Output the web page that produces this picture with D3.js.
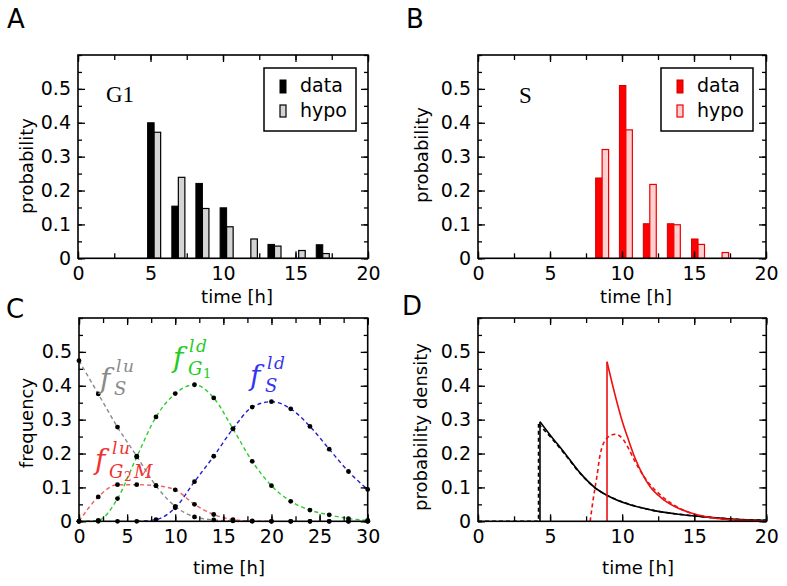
<!DOCTYPE html>
<html>
<head>
<meta charset="utf-8">
<script src="https://cdn.jsdelivr.net/npm/d3@7"></script>
<style>
  html, body { margin: 0; padding: 0; background: #fff; }
  svg { display: block; }
</style>
</head>
<body>
<div id="chart"></div>
<script>
// ---------------- DATA ----------------
// Panel A (G1): bin edges (time, h) between the data bar and the hypo bar
const aBins = [5.25, 6.92, 8.58, 10.25, 11.92, 13.55, 15.22, 16.88];
const aData = [0.400, 0.154, 0.221, 0.149, 0.000, 0.041, 0.000, 0.040];
const aHypo = [0.372, 0.239, 0.147, 0.093, 0.057, 0.036, 0.023, 0.014];

// Panel B (S)
const bBins = [8.62, 10.27, 11.93, 13.60, 15.28, 16.95];
const bData = [0.237, 0.510, 0.102, 0.102, 0.057, 0.000];
const bHypo = [0.321, 0.379, 0.218, 0.099, 0.041, 0.017];

// Panel C: frequencies at sampled times
const cTimes = [0, 2, 4, 6, 8, 10, 12, 14, 16, 18, 20, 22, 24, 26, 28, 30];
const cSlu   = [0.474, 0.376, 0.278, 0.192, 0.105, 0.044, 0.013, 0.004, 0.001, 0, 0, 0, 0, 0, 0, 0];
const cG2Mlu = [0, 0.072, 0.108, 0.108, 0.105, 0.093, 0.050, 0.020, 0.005, 0.001, 0, 0, 0, 0, 0, 0];
const cG1ld  = [0, 0.003, 0.067, 0.190, 0.308, 0.377, 0.403, 0.364, 0.273, 0.177, 0.105, 0.059, 0.033, 0.019, 0.008, 0.003];
const cSld   = [0, 0, 0, 0, 0.005, 0.040, 0.117, 0.192, 0.273, 0.337, 0.353, 0.332, 0.280, 0.213, 0.147, 0.094];

// Panel D: probability densities (time, value)
const dBlackT      = [4.30, 5.00, 5.93, 7.08, 8.13, 8.94, 10.44, 12.06, 13.91, 15.76, 17.50, 20.00];
const dBlackSolid  = [0.294, 0.255, 0.206, 0.143, 0.099, 0.077, 0.050, 0.033, 0.021, 0.013, 0.007, 0.003];
const dBlackDashT  = [4.20, 5.00, 5.93, 7.08, 8.13, 8.94, 10.44, 12.06, 13.91, 15.76, 17.50, 20.00];
const dBlackDash   = [0.287, 0.250, 0.203, 0.142, 0.098, 0.077, 0.051, 0.033, 0.021, 0.013, 0.007, 0.003];
const dRedT        = [8.95, 9.28, 9.63, 9.98, 10.44, 10.90, 11.37, 11.94, 12.75, 13.68, 14.84, 15.76, 17.50, 20.00];
const dRedSolid    = [0.471, 0.412, 0.353, 0.299, 0.240, 0.186, 0.142, 0.102, 0.068, 0.043, 0.024, 0.014, 0.005, 0.001];
const dRedDashT    = [7.78, 8.00, 8.24, 8.47, 8.94, 9.51, 10.10, 10.44, 10.90, 11.60, 12.75, 13.91, 15.07, 16.50, 18.00, 20.00];
const dRedDash     = [0.000, 0.068, 0.130, 0.196, 0.245, 0.257, 0.240, 0.215, 0.176, 0.127, 0.074, 0.040, 0.020, 0.009, 0.003, 0.001];

// Tick values
const xTicks20 = [0, 5, 10, 15, 20];
const xTicks30 = [0, 5, 10, 15, 20, 25, 30];
const yTicks   = [0, 0.1, 0.2, 0.3, 0.4, 0.5];

// ---------------- DRAWING ----------------
const W = 787, H = 586;
const FONT = "'DejaVu Sans', Verdana, sans-serif";
const svg = d3.select("#chart").append("svg").attr("width", W).attr("height", H);
svg.append("rect").attr("width", W).attr("height", H).attr("fill", "#fff");

const barW = 0.45; // hours

function panel(opts) {
  const x = d3.scaleLinear().domain(opts.xd).range([opts.x0, opts.x1]);
  const y = d3.scaleLinear().domain([0, 0.6]).range([opts.y0, opts.y1]);
  const g = svg.append("g");
  const plot = g.append("g");
  const minorX = d3.range(opts.xd[0], opts.xd[1] + 1e-9, 2.5);
  const minorY = d3.range(0, 0.6 + 1e-9, 0.05);
  const style = sel => {
    sel.select(".domain").remove();
    sel.selectAll("line").attr("stroke", "#000").attr("stroke-width", 1.3);
    sel.selectAll("text").attr("font-family", FONT).attr("font-size", 19).attr("fill", "#000");
  };
  const ax = g.append("g");
  // minor ticks (no labels)
  ax.append("g").attr("transform", `translate(0,${opts.y0})`)
    .call(d3.axisBottom(x).tickValues(minorX).tickSize(-5).tickSizeOuter(0).tickFormat("")).call(style);
  ax.append("g").attr("transform", `translate(0,${opts.y1})`)
    .call(d3.axisTop(x).tickValues(minorX).tickSize(-5).tickSizeOuter(0).tickFormat("")).call(style);
  ax.append("g").attr("transform", `translate(${opts.x0},0)`)
    .call(d3.axisLeft(y).tickValues(minorY).tickSize(-4).tickSizeOuter(0).tickFormat("")).call(style);
  ax.append("g").attr("transform", `translate(${opts.x1},0)`)
    .call(d3.axisRight(y).tickValues(minorY).tickSize(-4).tickSizeOuter(0).tickFormat("")).call(style);
  // major ticks with labels
  ax.append("g").attr("transform", `translate(0,${opts.y0})`)
    .call(d3.axisBottom(x).tickValues(opts.xt).tickSize(-7).tickSizeOuter(0).tickPadding(8).tickFormat(d3.format("d"))).call(style);
  ax.append("g").attr("transform", `translate(0,${opts.y1})`)
    .call(d3.axisTop(x).tickValues(opts.xt).tickSize(-7).tickSizeOuter(0).tickFormat("")).call(style);
  ax.append("g").attr("transform", `translate(${opts.x0},0)`)
    .call(d3.axisLeft(y).tickValues(yTicks).tickSize(-7).tickSizeOuter(0).tickPadding(7)
      .tickFormat(v => v === 0 ? "0" : d3.format(".1f")(v))).call(style);
  ax.append("g").attr("transform", `translate(${opts.x1},0)`)
    .call(d3.axisRight(y).tickValues(yTicks).tickSize(-7).tickSizeOuter(0).tickFormat("")).call(style);
  // frame
  g.append("rect").attr("x", opts.x0).attr("y", opts.y1)
    .attr("width", opts.x1 - opts.x0).attr("height", opts.y0 - opts.y1)
    .attr("fill", "none").attr("stroke", "#000").attr("stroke-width", 1.6);
  // titles
  g.append("text").attr("x", opts.xtx).attr("y", opts.xty).attr("text-anchor", "middle")
    .attr("font-family", FONT).attr("font-size", 18).text("time [h]");
  g.append("text").attr("transform", `translate(${opts.ytx},${opts.yty}) rotate(-90)`)
    .attr("text-anchor", "middle").attr("font-family", FONT).attr("font-size", 18).text(opts.ylabel);
  g.append("text").attr("x", opts.lx).attr("y", opts.ly)
    .attr("font-family", FONT).attr("font-size", 26).text(opts.letter);
  return { x, y, plot, g };
}

function bars(p, bins, data, hypo, c) {
  const rows = bins.map((b, i) => ({ b, d: data[i], h: hypo[i] }));
  p.plot.selectAll(null).data(rows.filter(r => r.d > 0)).join("rect")
    .attr("x", r => p.x(r.b - barW)).attr("width", r => p.x(r.b) - p.x(r.b - barW))
    .attr("y", r => p.y(r.d)).attr("height", r => p.y(0) - p.y(r.d))
    .attr("fill", c.dFill).attr("stroke", c.dStroke).attr("stroke-width", 1);
  p.plot.selectAll(null).data(rows.filter(r => r.h > 0)).join("rect")
    .attr("x", r => p.x(r.b)).attr("width", r => p.x(r.b + barW) - p.x(r.b))
    .attr("y", r => p.y(r.h)).attr("height", r => p.y(0) - p.y(r.h))
    .attr("fill", c.hFill).attr("stroke", c.hStroke).attr("stroke-width", 1.2);
}

function legend(g, bx, by, c) {
  g.append("rect").attr("x", bx).attr("y", by).attr("width", 92).attr("height", 63)
    .attr("fill", "#fff").attr("stroke", "#000").attr("stroke-width", 1.5);
  g.append("rect").attr("x", bx + 16).attr("y", by + 12).attr("width", 6).attr("height", 13)
    .attr("fill", c.dFill).attr("stroke", c.dStroke).attr("stroke-width", 1);
  g.append("rect").attr("x", bx + 16).attr("y", by + 37).attr("width", 6).attr("height", 12)
    .attr("fill", c.hFill).attr("stroke", c.hStroke).attr("stroke-width", 1.2);
  g.append("text").attr("x", bx + 36).attr("y", by + 24).attr("font-family", FONT).attr("font-size", 19).text("data");
  g.append("text").attr("x", bx + 36).attr("y", by + 49).attr("font-family", FONT).attr("font-size", 19).text("hypo");
}

// ---- Panel A ----
const cA = { dFill: "#000", dStroke: "#000", hFill: "#d4d4d4", hStroke: "#000" };
const pA = panel({ xd: [0, 20], xt: xTicks20, x0: 78, x1: 368, y0: 258.3, y1: 55,
  xtx: 237, xty: 303, ytx: 33, yty: 166, ylabel: "probability", letter: "A", lx: 7, ly: 28 });
bars(pA, aBins, aData, aHypo, cA);
legend(pA.g, 264, 68, cA);
pA.g.append("text").attr("x", 106).attr("y", 102).attr("font-family", "'Liberation Serif', 'Times New Roman', serif")
  .attr("font-size", 23).text("G1");

// ---- Panel B ----
const cB = { dFill: "#ff0000", dStroke: "#d00000", hFill: "#ffd0d0", hStroke: "#ee0000" };
const pB = panel({ xd: [0, 20], xt: xTicks20, x0: 478, x1: 766, y0: 258.3, y1: 55,
  xtx: 636, xty: 303, ytx: 428, yty: 155, ylabel: "probability", letter: "B", lx: 406, ly: 28 });
bars(pB, bBins, bData, bHypo, cB);
legend(pB.g, 661, 68, cB);
pB.g.append("text").attr("x", 519).attr("y", 103).attr("font-family", "'Liberation Serif', 'Times New Roman', serif")
  .attr("font-size", 23).text("S");

// ---- Panel C ----
const pC = panel({ xd: [0, 30], xt: xTicks30, x0: 79, x1: 367.7, y0: 521.3, y1: 318,
  xtx: 229, xty: 574, ytx: 33, yty: 423, ylabel: "frequency", letter: "C", lx: 6, ly: 318 });
const cSeries = [
  { v: cSlu,   color: "#8a8a8a" },
  { v: cG2Mlu, color: "#f06060" },
  { v: cG1ld,  color: "#2ecc2e" },
  { v: cSld,   color: "#2020cc" }
];
const cLine = d3.line().curve(d3.curveMonotoneX).x(d => pC.x(d.t)).y(d => pC.y(d.v));
cSeries.forEach(s => {
  const pts = cTimes.map((t, i) => ({ t, v: s.v[i] }))
    .filter((d, i, a) => d.v > 0 || (a[i - 1] && a[i - 1].v > 0) || (a[i + 1] && a[i + 1].v > 0));
  pC.plot.append("path").attr("d", cLine(pts)).attr("fill", "none")
    .attr("stroke", s.color).attr("stroke-width", 1.4).attr("stroke-dasharray", "4,3");
});
cSeries.forEach(s => {
  pC.plot.selectAll(null).data(cTimes.map((t, i) => ({ t, v: s.v[i] }))).join("circle")
    .attr("cx", d => pC.x(d.t)).attr("cy", d => pC.y(d.v)).attr("r", 2.4).attr("fill", "#000");
});
// math labels
const MF = "'DejaVu Serif', 'Liberation Serif', serif";
function mlabel(parts, color) {
  parts.forEach(p => {
    pC.g.append("text").attr("x", p[0]).attr("y", p[1]).attr("font-family", MF)
      .attr("font-style", p[4] ? "normal" : "italic").attr("font-size", p[3])
      .attr("letter-spacing", p[3] < 24 ? 1.5 : 0).attr("fill", color).text(p[2]);
  });
}
mlabel([[100, 388, "f", 28], [116, 372, "lu", 17], [114, 395, "S", 18]], "#8a8a8a");
mlabel([[173, 367, "f", 28], [189, 352, "ld", 17], [188, 375, "G", 18], [203, 378, "1", 13, true]], "#22cc22");
mlabel([[250, 385, "f", 28], [267, 369, "ld", 17], [265, 392, "S", 18]], "#3535ee");
mlabel([[95, 469, "f", 28], [112, 454, "lu", 17], [109, 478, "G", 18], [124, 481, "2", 12, true], [134, 478, "M", 18]], "#ee3333");

// ---- Panel D ----
const pD = panel({ xd: [0, 20], xt: xTicks20, x0: 478, x1: 766.3, y0: 521.3, y1: 318,
  xtx: 638, xty: 574, ytx: 427, yty: 427, ylabel: "probability density", letter: "D", lx: 402, ly: 315 });
const dLine = d3.line().curve(d3.curveMonotoneX).x(d => pD.x(d.t)).y(d => pD.y(d.v));
const lin = d3.line().x(d => pD.x(d.t)).y(d => pD.y(d.v));
function dCurve(ts, vs, color, dashed, startFromZero) {
  const pts = ts.map((t, i) => ({ t, v: vs[i] }));
  const g = pD.plot.append("g").attr("fill", "none").attr("stroke", color).attr("stroke-width", 1.6);
  if (dashed) g.attr("stroke-dasharray", "4,3");
  if (startFromZero) {
    const jump = startFromZero === "flat"
      ? [{ t: 0, v: 0 }, { t: ts[0], v: 0 }, pts[0]]
      : [{ t: ts[0], v: 0 }, pts[0]];
    g.append("path").attr("d", lin(jump));
  }
  g.append("path").attr("d", dLine(pts));
}
dCurve(dRedDashT, dRedDash, "#ee1111", true, false);
dCurve(dBlackDashT, dBlackDash, "#000", true, "flat");
dCurve(dBlackT, dBlackSolid, "#000", false, "up");
dCurve(dRedT, dRedSolid, "#ee1111", false, "up");
</script>
</body>
</html>
